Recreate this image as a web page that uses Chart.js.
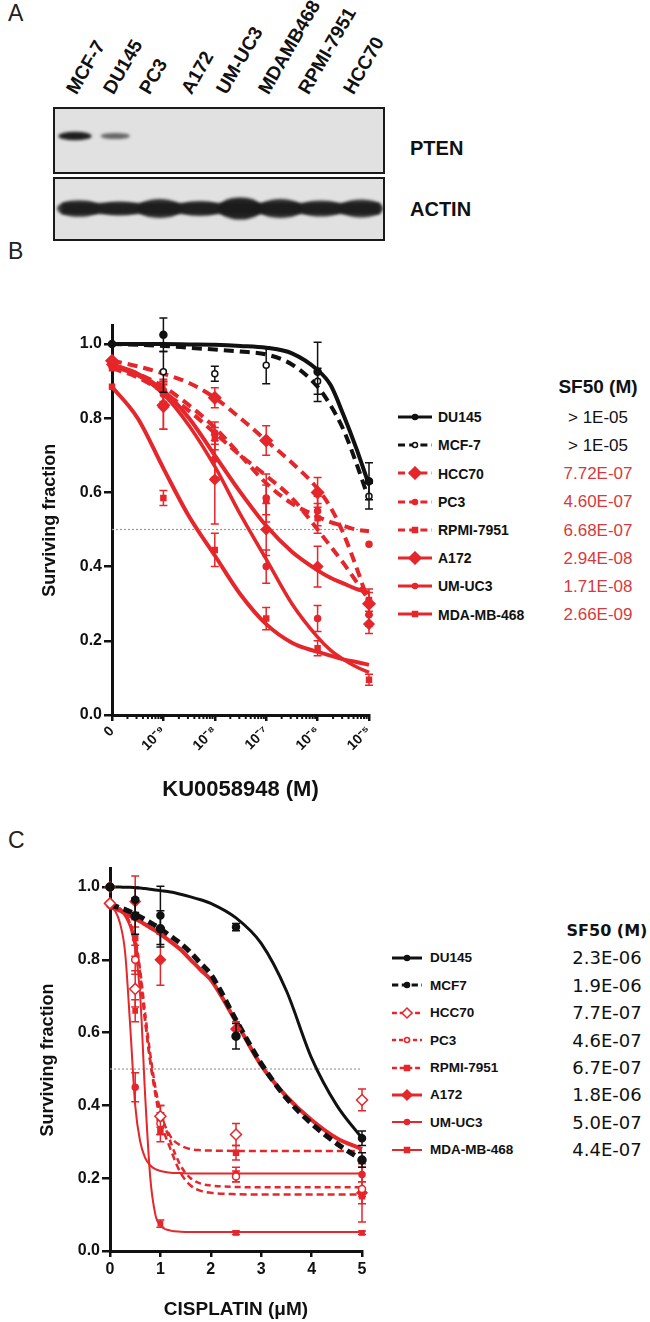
<!DOCTYPE html>
<html>
<head>
<meta charset="utf-8">
<script src="https://cdn.jsdelivr.net/npm/chart.js@4.4.1/dist/chart.umd.min.js"></script>
<style>
  body { margin: 0; width: 650px; height: 1322px; position: relative; background: #fff;
         font-family: Arial, 'Liberation Sans', Helvetica, sans-serif; color: #111; overflow: hidden; }
  .t { position: absolute; line-height: 1; white-space: nowrap; }
  .letter { font-size: 23px; color: #222; }
  .blotlab { font-size: 20px; font-weight: bold; }
  canvas.c { position: absolute; left: 0; }
  .leg { position: absolute; }
  .bLab { font-size: 14px; font-weight: bold; }
  .bVal { font-size: 17px; text-align: center; width: 120px; }
  .cLab { font-size: 13.5px; font-weight: bold; }
  .cVal { font-family: 'DejaVu Sans', Verdana, sans-serif; font-size: 18px; text-align: center; width: 120px; }
</style>
</head>
<body>

<div class="t letter" style="left:8px;top:2px">A</div>
<div class="t letter" style="left:8px;top:240px">B</div>
<div class="t letter" style="left:8px;top:829px">C</div>

<canvas id="blot" width="340" height="142" style="position:absolute;left:50px;top:104px"></canvas>
<div class="t blotlab" style="left:410px;top:138px">PTEN</div>
<div class="t blotlab" style="left:410px;top:199px">ACTIN</div>

<canvas id="chartB" class="c" width="385" height="500" style="top:310px"></canvas>
<canvas id="chartC" class="c" width="380" height="472" style="top:850px"></canvas>

<script>
// ---- panel A : western blot ----
const LANES = ['MCF-7', 'DU145', 'PC3', 'A172', 'UM-UC3', 'MDAMB468', 'RPMI-7951', 'HCC70'];
const LANE_LABEL_X = [79, 116, 152, 194, 229, 271, 311, 356];
const PTEN_LEVEL = [0.95, 0.6, 0, 0, 0, 0, 0, 0];
const ACTIN_LEVEL = [0.55, 0.35, 0.75, 0.4, 1.0, 0.75, 0.5, 0.65];

// ---- panel B : KU0058948 ----
const NAMES_B = ['DU145', 'MCF-7', 'HCC70', 'PC3', 'RPMI-7951', 'A172', 'UM-UC3', 'MDA-MB-468'];
const SF50_B = ['> 1E-05', '> 1E-05', '7.72E-07', '4.60E-07', '6.68E-07', '2.94E-08', '1.71E-08', '2.66E-09'];
const B_X_TICKS = [-10, -9, -8, -7, -6, -5];          // log10 M, the 0 dose sits at -10
const B_X_LABELS = ['0', '10\u207B\u2079', '10\u207B\u2078', '10\u207B\u2077', '10\u207B\u2076', '10\u207B\u2075'];
const Y_TICKS = [0, 0.2, 0.4, 0.6, 0.8, 1.0];
const B_DOSE = [-10, -9, -8, -7, -6, -5];
const B_CURVE_X = [-10, -9.5, -9, -8.5, -8, -7.5, -7, -6.5, -6, -5.75, -5.5, -5.25, -5];

const B_FIT_DU145 = [1.0, 1.0, 1.0, 0.999, 0.998, 0.995, 0.99, 0.975, 0.93, 0.89, 0.81, 0.72, 0.62];
const B_FIT_MCF7  = [1.0, 0.998, 0.995, 0.99, 0.985, 0.98, 0.972, 0.945, 0.885, 0.835, 0.77, 0.68, 0.58];
const B_FIT_HCC70 = [0.955, 0.94, 0.92, 0.895, 0.855, 0.80, 0.74, 0.68, 0.61, 0.56, 0.49, 0.40, 0.30];
const B_FIT_PC3   = [0.945, 0.92, 0.885, 0.835, 0.775, 0.70, 0.625, 0.57, 0.535, 0.52, 0.51, 0.50, 0.495];
const B_FIT_RPMI  = [0.935, 0.91, 0.87, 0.82, 0.76, 0.70, 0.645, 0.585, 0.50, 0.455, 0.41, 0.36, 0.31];
const B_FIT_A172  = [0.945, 0.92, 0.875, 0.80, 0.70, 0.60, 0.51, 0.44, 0.39, 0.37, 0.355, 0.34, 0.33];
const B_FIT_UMUC3 = [0.94, 0.915, 0.865, 0.78, 0.67, 0.54, 0.42, 0.30, 0.21, 0.175, 0.15, 0.13, 0.115];
const B_FIT_MDA   = [0.885, 0.80, 0.665, 0.535, 0.43, 0.325, 0.245, 0.195, 0.17, 0.16, 0.15, 0.143, 0.135];

const B_PT_DU145 = [1.0, 1.025, null, null, 0.925, 0.63];
const B_PT_MCF7  = [1.0, 0.925, 0.92, 0.943, 0.90, 0.59];
const B_PT_HCC70 = [0.955, 0.835, 0.855, 0.74, 0.60, 0.30];
const B_PT_PC3   = [0.945, 0.875, 0.76, 0.585, 0.55, 0.46];
const B_PT_RPMI  = [0.935, 0.87, 0.745, 0.58, 0.53, 0.31];
const B_PT_A172  = [0.945, 0.83, 0.635, 0.50, 0.40, 0.245];
const B_PT_UMUC3 = [0.94, 0.865, 0.69, 0.40, 0.26, 0.27];
const B_PT_MDA   = [0.885, 0.585, 0.445, 0.26, 0.18, 0.095];

const B_ERR_DU145 = [0, 0.045, 0, 0, 0.08, 0.05];
const B_ERR_MCF7  = [0, 0.055, 0.02, 0.05, 0.035, 0.035];
const B_ERR_HCC70 = [0, 0.065, 0.027, 0.04, 0.04, 0.03];
const B_ERR_PC3   = [0, 0.03, 0.03, 0.065, 0.04, 0];
const B_ERR_RPMI  = [0, 0.03, 0.03, 0.04, 0.04, 0.03];
const B_ERR_A172  = [0, 0.06, 0.12, 0.07, 0.055, 0.025];
const B_ERR_UMUC3 = [0, 0.03, 0.05, 0.045, 0.035, 0.03];
const B_ERR_MDA   = [0, 0.02, 0.045, 0.03, 0.02, 0.015];

// ---- panel C : cisplatin ----
const NAMES_C = ['DU145', 'MCF7', 'HCC70', 'PC3', 'RPMI-7951', 'A172', 'UM-UC3', 'MDA-MB-468'];
const SF50_C = ['2.3E-06', '1.9E-06', '7.7E-07', '4.6E-07', '6.7E-07', '1.8E-06', '5.0E-07', '4.4E-07'];
const C_X_TICKS = [0, 1, 2, 3, 4, 5];
const C_DOSE = [0, 0.5, 1, 2.5, 5];
const C_CURVE_X = [0, 0.1, 0.2, 0.3, 0.4, 0.5, 0.6, 0.7, 0.8, 0.9, 1.0, 1.2, 1.4, 1.6, 1.8, 2.0, 2.5, 3.0, 3.5, 4.0, 4.5, 5.0];

const C_FIT_DU145 = [1.0, 1.0, 1.0, 0.999, 0.999, 0.998, 0.997, 0.996, 0.994, 0.992, 0.99, 0.986, 0.98, 0.973, 0.965, 0.955, 0.915, 0.845, 0.715, 0.53, 0.40, 0.31];
const C_FIT_MCF7  = [0.95, 0.947, 0.943, 0.938, 0.932, 0.925, 0.918, 0.91, 0.902, 0.894, 0.885, 0.865, 0.845, 0.82, 0.79, 0.76, 0.635, 0.515, 0.42, 0.35, 0.295, 0.25];
const C_FIT_HCC70 = [0.955, 0.95, 0.94, 0.925, 0.90, 0.85, 0.76, 0.63, 0.52, 0.44, 0.38, 0.315, 0.29, 0.28, 0.277, 0.276, 0.275, 0.275, 0.275, 0.275, 0.275, 0.275];
const C_FIT_PC3   = [0.955, 0.95, 0.94, 0.925, 0.90, 0.86, 0.77, 0.65, 0.54, 0.45, 0.385, 0.30, 0.235, 0.20, 0.185, 0.18, 0.176, 0.175, 0.175, 0.175, 0.175, 0.175];
const C_FIT_RPMI  = [0.955, 0.95, 0.94, 0.925, 0.895, 0.85, 0.75, 0.63, 0.52, 0.43, 0.36, 0.28, 0.215, 0.18, 0.165, 0.16, 0.156, 0.155, 0.155, 0.155, 0.155, 0.155];
const C_FIT_A172  = [0.945, 0.94, 0.935, 0.928, 0.92, 0.912, 0.905, 0.897, 0.888, 0.88, 0.87, 0.85, 0.828, 0.80, 0.772, 0.745, 0.63, 0.51, 0.425, 0.36, 0.31, 0.28];
const C_FIT_UMUC3 = [0.95, 0.935, 0.90, 0.82, 0.62, 0.40, 0.30, 0.255, 0.235, 0.225, 0.22, 0.215, 0.214, 0.213, 0.213, 0.213, 0.213, 0.213, 0.213, 0.213, 0.213, 0.213];
const C_FIT_MDA   = [0.95, 0.945, 0.935, 0.92, 0.89, 0.83, 0.70, 0.42, 0.20, 0.10, 0.07, 0.056, 0.053, 0.052, 0.052, 0.052, 0.052, 0.052, 0.052, 0.052, 0.052, 0.052];

const C_PT_DU145 = [1.0, 0.965, 0.922, 0.89, 0.31];
const C_PT_MCF7  = [1.0, 0.92, 0.885, 0.59, 0.25];
const C_PT_HCC70 = [0.955, 0.72, 0.37, 0.32, 0.415];
const C_PT_PC3   = [0.955, 0.80, 0.35, 0.205, 0.17];
const C_PT_RPMI  = [0.955, 0.86, 0.33, 0.27, 0.15];
const C_PT_A172  = [1.0, 0.96, 0.80, 0.61, 0.16];
const C_PT_UMUC3 = [0.95, 0.45, 0.36, 0.21, 0.21];
const C_PT_MDA   = [0.95, 0.66, 0.075, 0.05, 0.05];

const C_ERR_DU145 = [0, 0.035, 0.08, 0.01, 0.02];
const C_ERR_MCF7  = [0, 0.05, 0.05, 0.035, 0.02];
const C_ERR_HCC70 = [0, 0.05, 0.03, 0.03, 0.03];
const C_ERR_PC3   = [0, 0.04, 0.03, 0.015, 0.02];
const C_ERR_RPMI  = [0, 0.05, 0.03, 0.02, 0.02];
const C_ERR_A172  = [0, 0.07, 0.07, 0.02, 0.08];
const C_ERR_UMUC3 = [0, 0.04, 0.04, 0.02, 0.02];
const C_ERR_MDA   = [0, 0.03, 0.01, 0.005, 0.005];

const RED = '#e5262b';
const RED_TXT = '#d63a3c';
const BLACK = '#111';

const STYLE_B = [
  { color: BLACK, dash: [], lw: 4, pt: 'circle', r: 3.5, fill: BLACK },
  { color: BLACK, dash: [10, 6], lw: 4, pt: 'circle', r: 3, fill: '#fff' },
  { color: RED, dash: [10, 6], lw: 4, pt: 'rectRot', r: 6, fill: RED },
  { color: RED, dash: [10, 6], lw: 4, pt: 'circle', r: 3, fill: RED },
  { color: RED, dash: [10, 6], lw: 4, pt: 'rect', r: 3.5, fill: RED },
  { color: RED, dash: [], lw: 4, pt: 'rectRot', r: 5, fill: RED },
  { color: RED, dash: [], lw: 3.5, pt: 'circle', r: 3, fill: RED },
  { color: RED, dash: [], lw: 4, pt: 'rect', r: 3.5, fill: RED }
];
const STYLE_C = [
  { color: BLACK, dash: [], lw: 3, pt: 'circle', r: 3.5, fill: BLACK },
  { color: BLACK, dash: [9, 5], lw: 5, pt: 'circle', r: 4, fill: BLACK },
  { color: RED, dash: [7, 4], lw: 2.5, pt: 'rectRot', r: 5.5, fill: '#fff' },
  { color: RED, dash: [6, 4], lw: 2.5, pt: 'circle', r: 3.5, fill: '#fff' },
  { color: RED, dash: [7, 4], lw: 2.5, pt: 'rect', r: 3.5, fill: RED },
  { color: RED, dash: [], lw: 4, pt: 'rectRot', r: 5, fill: RED },
  { color: RED, dash: [], lw: 2, pt: 'circle', r: 3, fill: RED },
  { color: RED, dash: [], lw: 2, pt: 'rect', r: 3, fill: RED }
];

function drawBlot() {
  const ctx = document.getElementById('blot').getContext('2d');
  const boxes = [[4, 4, 330, 65], [4, 74, 330, 62]];
  boxes.forEach(b => {
    ctx.fillStyle = '#e1e1e1';
    ctx.fillRect(b[0], b[1], b[2], b[3]);
  });
  ctx.filter = 'blur(1.5px)';
  // continuous actin core
  ctx.fillStyle = 'rgba(30,30,30,0.85)';
  ctx.fillRect(12, 99, 318, 11);
  LANES.forEach((name, i) => {
    const cx = 29 + i * 40.3;
    if (PTEN_LEVEL[i] > 0) {
      ctx.fillStyle = 'rgba(20,20,20,' + PTEN_LEVEL[i] + ')';
      ctx.beginPath();
      ctx.ellipse(cx - 4, 32, 17 - (1 - PTEN_LEVEL[i]) * 6, 3.5 * PTEN_LEVEL[i] + 1, 0, 0, Math.PI * 2);
      ctx.fill();
    }
    const h = 5 + 6 * ACTIN_LEVEL[i];
    ctx.fillStyle = 'rgba(25,25,25,' + (0.7 + 0.25 * ACTIN_LEVEL[i]) + ')';
    ctx.beginPath();
    ctx.ellipse(cx, 104.5, 22, h, 0, 0, Math.PI * 2);
    ctx.fill();
  });
  ctx.filter = 'none';
  ctx.strokeStyle = '#1a1a1a';
  ctx.lineWidth = 2;
  boxes.forEach(b => ctx.strokeRect(b[0], b[1], b[2], b[3]));

  // lane names, rotated, bottom-left corner anchored just above the blot
  LANES.forEach((name, i) => {
    const d = document.createElement('div');
    d.textContent = name;
    d.style.cssText = 'position:absolute;white-space:nowrap;line-height:19px;height:19px;' +
      'font-size:19px;font-weight:bold;transform-origin:0 100%;transform:rotate(-60deg);' +
      'left:' + LANE_LABEL_X[i] + 'px;top:' + (97 - 19) + 'px;';
    document.body.appendChild(d);
  });
}

const errorBars = {
  id: 'errorBars',
  beforeDatasetDraw(chart, args) {
    const ds = chart.data.datasets[args.index];
    if (!ds.err) return;
    const ctx = chart.ctx, x = chart.scales.x, y = chart.scales.y;
    ctx.save();
    ctx.strokeStyle = ds.borderColor;
    ctx.lineWidth = 1.5;
    ds.data.forEach((p, i) => {
      const e = ds.err[i];
      if (p.y == null || !e) return;
      const px = x.getPixelForValue(p.x);
      const top = y.getPixelForValue(p.y + e), bot = y.getPixelForValue(p.y - e);
      ctx.beginPath();
      ctx.moveTo(px, top); ctx.lineTo(px, bot);
      ctx.moveTo(px - 4, top); ctx.lineTo(px + 4, top);
      ctx.moveTo(px - 4, bot); ctx.lineTo(px + 4, bot);
      ctx.stroke();
    });
    ctx.restore();
  }
};

const minorTicks = {
  id: 'minorTicks',
  afterDraw(chart, args, opts) {
    if (!opts || !opts.values) return;
    const ctx = chart.ctx, x = chart.scales.x;
    ctx.save();
    ctx.strokeStyle = BLACK;
    ctx.lineWidth = 2;
    opts.values.forEach(v => {
      const px = x.getPixelForValue(v);
      ctx.beginPath();
      ctx.moveTo(px, x.top);
      ctx.lineTo(px, x.top + 4);
      ctx.stroke();
    });
    ctx.restore();
  }
};

function buildDatasets(curveX, fits, dose, pts, errs, styles, xMin, xMax) {
  const marks = [], lines = [];
  fits.forEach((fit, i) => {
    const st = styles[i];
    lines.push({
      data: curveX.map((x, k) => ({ x: x, y: fit[k] })),
      showLine: true, borderColor: st.color, borderWidth: st.lw, borderDash: st.dash,
      pointRadius: 0, cubicInterpolationMode: 'monotone', fill: false, clip: false
    });
    marks.push({
      data: dose.map((x, k) => ({ x: x, y: pts[i][k] })),
      err: errs[i], showLine: false, pointStyle: st.pt, pointRadius: st.r,
      pointBackgroundColor: st.fill, pointBorderColor: st.color, pointBorderWidth: 1.5,
      borderColor: st.color, clip: false
    });
  });
  const half = {
    data: [{ x: xMin, y: 0.5 }, { x: xMax, y: 0.5 }],
    showLine: true, borderColor: '#9a9a9a', borderWidth: 1.2, borderDash: [2, 2],
    pointRadius: 0, clip: false
  };
  return [...marks, ...lines, half];
}

function axisOptions(o) {
  return {
    x: {
      type: 'linear', min: o.xMin, max: o.xMax,
      afterBuildTicks: s => { s.ticks = o.xTicks.map(v => ({ value: v })); },
      afterFit: s => { s.height = o.xHeight; },
      ticks: { callback: (v, i) => o.xLabels[i], font: o.xFont, color: BLACK,
               minRotation: o.rot, maxRotation: o.rot, padding: o.xPad, autoSkip: false },
      grid: { display: true, drawOnChartArea: false, tickLength: 6, lineWidth: 2.5, color: BLACK },
      border: { display: true, width: 3, color: BLACK },
      title: { display: true, text: o.xTitle, color: BLACK, font: o.xTitleFont,
               padding: { top: 0, bottom: o.xTitlePad } }
    },
    y: {
      type: 'linear', min: 0, max: 1.05,
      afterBuildTicks: s => { s.ticks = Y_TICKS.map(v => ({ value: v })); },
      afterFit: s => { s.width = o.yWidth; },
      ticks: { callback: v => v.toFixed(1), font: { size: 16, weight: 'bold' }, color: BLACK, padding: 2 },
      grid: { display: true, drawOnChartArea: false, tickLength: 8, lineWidth: 2.5, color: BLACK },
      border: { display: true, width: 3, color: BLACK },
      title: { display: true, text: 'Surviving fraction', color: BLACK,
               font: { size: 18, weight: 'bold' }, padding: { top: o.yTitlePad, bottom: 0 } }
    }
  };
}

function makeChart(id, datasets, axes, padding, plugOpts) {
  return new Chart(document.getElementById(id), {
    type: 'scatter',
    data: { datasets: datasets },
    options: {
      responsive: false, animation: false, devicePixelRatio: 1,
      layout: { padding: padding },
      plugins: { legend: { display: false }, tooltip: { enabled: false }, minorTicks: plugOpts },
      scales: axes
    },
    plugins: [errorBars, minorTicks]
  });
}

function legendSample(st, w, lw, r) {
  const dash = st.dash.length ? ' stroke-dasharray="' + st.dash.map(d => d * 0.7).join(',') + '"' : '';
  const cx = w / 2, cy = 7;
  let m = '';
  const attrs = ' fill="' + st.fill + '" stroke="' + st.color + '" stroke-width="1.5"';
  if (st.pt === 'circle') m = '<circle cx="' + cx + '" cy="' + cy + '" r="' + r + '"' + attrs + '/>';
  if (st.pt === 'rect') m = '<rect x="' + (cx - r) + '" y="' + (cy - r) + '" width="' + 2 * r + '" height="' + 2 * r + '"' + attrs + '/>';
  if (st.pt === 'rectRot') m = '<polygon points="' + [cx - r - 1, cy, cx, cy - r - 1, cx + r + 1, cy, cx, cy + r + 1].join(',') + '"' + attrs + '/>';
  return '<svg width="' + w + '" height="14" style="display:block"><line x1="0" y1="7" x2="' + w + '" y2="7" stroke="' + st.color +
    '" stroke-width="' + lw + '"' + dash + '/>' + m + '</svg>';
}

function addText(cls, text, left, top, color) {
  const d = document.createElement('div');
  d.className = 't ' + cls;
  d.textContent = text;
  d.style.left = left + 'px';
  d.style.top = top + 'px';
  if (color) d.style.color = color;
  document.body.appendChild(d);
  return d;
}

function drawLegends() {
  const hb = addText('', 'SF50 (M)', 538, 377);
  hb.style.cssText += 'font-size:19px;font-weight:bold;width:120px;text-align:center;';
  NAMES_B.forEach((n, i) => {
    const cy = 417 + i * 28.2, st = STYLE_B[i];
    const s = document.createElement('div');
    s.className = 'leg';
    s.style.left = '398px'; s.style.top = (cy - 7) + 'px';
    s.innerHTML = legendSample(st, 34, 3, st.pt === 'rectRot' ? Math.min(st.r, 5) : 2.5);
    document.body.appendChild(s);
    addText('bLab', n, 438, cy - 6.9);
    addText('bVal', SF50_B[i], 538, cy - 8.3, i < 2 ? BLACK : RED_TXT);
  });

  const hc = addText('', 'SF50 (M)', 547, 923);
  hc.style.cssText += "font-family:'DejaVu Sans',Verdana,sans-serif;font-size:16px;font-weight:bold;width:120px;text-align:center;";
  NAMES_C.forEach((n, i) => {
    const cy = 958 + i * 27.4, st = STYLE_C[i];
    const s = document.createElement('div');
    s.className = 'leg';
    s.style.left = '392px'; s.style.top = (cy - 7) + 'px';
    s.innerHTML = legendSample(st, 30, Math.min(st.lw, 3), st.pt === 'rectRot' ? 4 : 2.5);
    document.body.appendChild(s);
    addText('cLab', n, 430, cy - 6.6);
    addText('cVal', SF50_C[i], 547, cy - 8.6, BLACK);
  });
}

Chart.defaults.font.family = "Arial, 'Liberation Sans', Helvetica, sans-serif";

drawBlot();

const minorB = [];
for (let d = -10; d < -5; d++) {
  for (let k = 2; k <= 9; k++) minorB.push(d + Math.log10(k));
}

makeChart('chartB',
  buildDatasets(B_CURVE_X,
    [B_FIT_DU145, B_FIT_MCF7, B_FIT_HCC70, B_FIT_PC3, B_FIT_RPMI, B_FIT_A172, B_FIT_UMUC3, B_FIT_MDA],
    B_DOSE,
    [B_PT_DU145, B_PT_MCF7, B_PT_HCC70, B_PT_PC3, B_PT_RPMI, B_PT_A172, B_PT_UMUC3, B_PT_MDA],
    [B_ERR_DU145, B_ERR_MCF7, B_ERR_HCC70, B_ERR_PC3, B_ERR_RPMI, B_ERR_A172, B_ERR_UMUC3, B_ERR_MDA],
    STYLE_B, -10, -5),
  axisOptions({ xMin: -10, xMax: -5, xTicks: B_X_TICKS, xLabels: B_X_LABELS, xHeight: 95,
                xFont: { size: 14, weight: 'bold' }, rot: 45, xPad: 2,
                xTitle: 'KU0058948 (M)', xTitleFont: { size: 22, weight: 'bold' }, xTitlePad: 7,
                yWidth: 112, yTitlePad: 39 }),
  { top: 15.5, right: 16, left: 0, bottom: 0 },
  { values: minorB });

makeChart('chartC',
  buildDatasets(C_CURVE_X,
    [C_FIT_DU145, C_FIT_MCF7, C_FIT_HCC70, C_FIT_PC3, C_FIT_RPMI, C_FIT_A172, C_FIT_UMUC3, C_FIT_MDA],
    C_DOSE,
    [C_PT_DU145, C_PT_MCF7, C_PT_HCC70, C_PT_PC3, C_PT_RPMI, C_PT_A172, C_PT_UMUC3, C_PT_MDA],
    [C_ERR_DU145, C_ERR_MCF7, C_ERR_HCC70, C_ERR_PC3, C_ERR_RPMI, C_ERR_A172, C_ERR_UMUC3, C_ERR_MDA],
    STYLE_C, 0, 5),
  axisOptions({ xMin: 0, xMax: 5, xTicks: C_X_TICKS, xLabels: C_X_TICKS.map(String), xHeight: 71,
                xFont: { size: 16, weight: 'bold' }, rot: 0, xPad: 3,
                xTitle: 'CISPLATIN (\u03BCM)', xTitleFont: { size: 19, weight: 'bold' }, xTitlePad: 1,
                yWidth: 110, yTitlePad: 37 }),
  { top: 18.8, right: 18, left: 0, bottom: 0 },
  {});

drawLegends();
</script>
</body>
</html>
